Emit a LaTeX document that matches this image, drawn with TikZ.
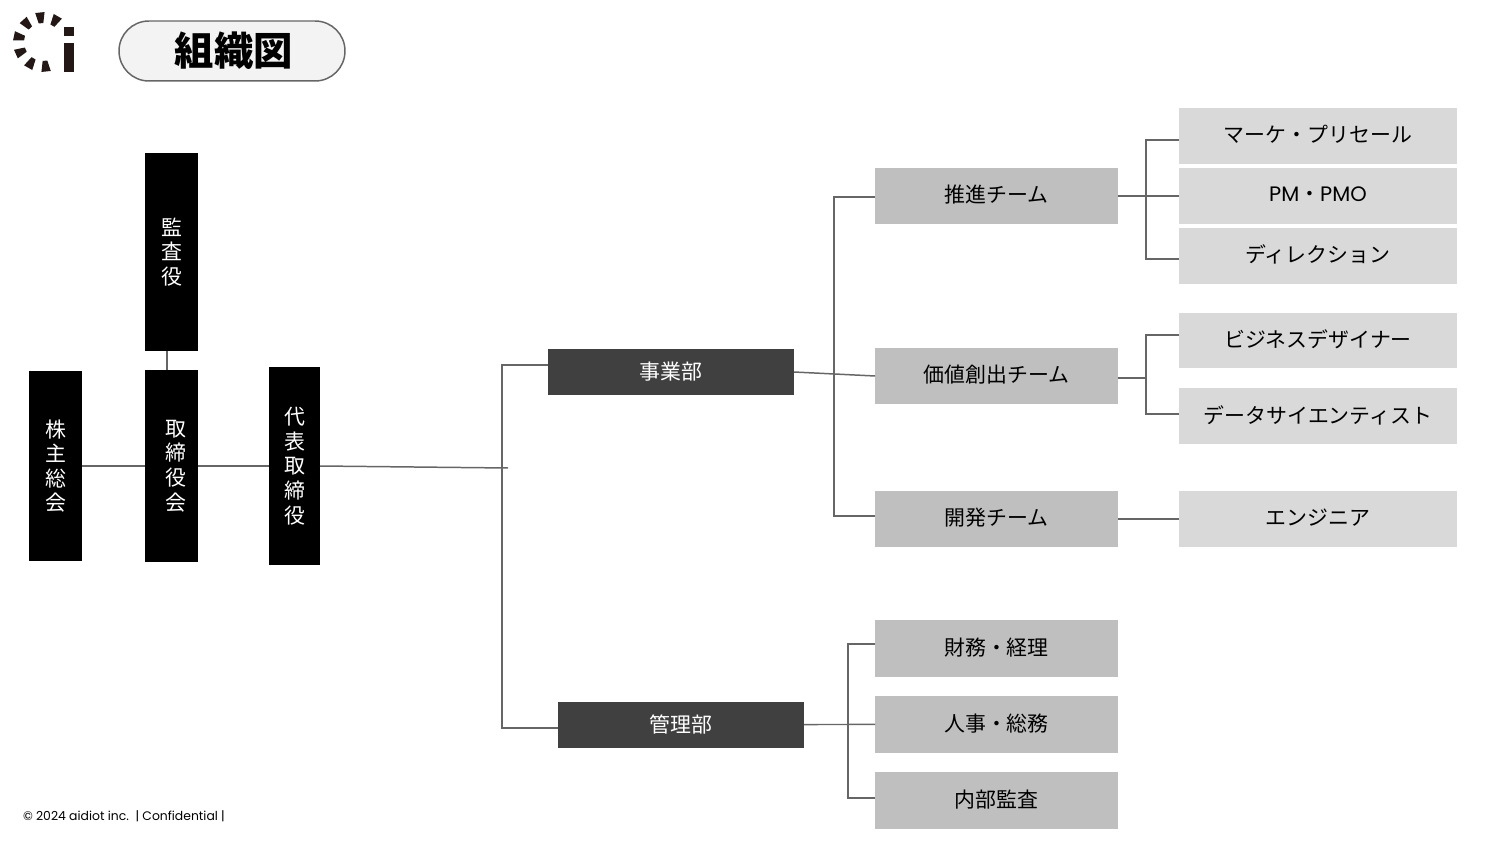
\documentclass[tikz,border=0pt]{standalone}
\usepackage{fontspec}
\setmainfont{Noto Sans CJK JP}
\newfontfamily\latinfont{Poppins}
\usepackage{xcolor}
\usetikzlibrary{positioning}
\definecolor{linegray}{RGB}{102,102,102}
\definecolor{logoink}{RGB}{35,24,21}
\definecolor{pillfill}{RGB}{243,243,243}
\definecolor{deptfill}{RGB}{64,64,64}
\definecolor{teamfill}{RGB}{191,191,191}
\definecolor{leaffill}{RGB}{217,217,217}
\newcommand{\nudge}{\hspace*{4.6pt}}

\begin{document}
\begin{tikzpicture}[
  x=0.02cm,y=-0.02cm,
  node distance=0.08cm,
  base/.style={inner sep=0pt,outer sep=0pt,align=center,font=\fontsize{11.9}{14}\selectfont},
  board/.style={base,fill=black,text=white,minimum width=1.05cm},
  dept/.style={base,fill=deptfill,text=white,minimum width=4.92cm,minimum height=0.92cm},
  team/.style={base,fill=teamfill,text depth=2.5pt,minimum width=4.86cm,minimum height=1.13cm},
  leaf/.style={base,fill=leaffill,text depth=2.5pt,minimum width=5.56cm,minimum height=1.12cm},
  conn/.style={draw=linegray,line width=0.85pt}]
  \useasboundingbox (0,0) rectangle (1500,844);

  % logo
  \foreach \a in {-60,-96,-132,-168,-204,-240,-276}
    \fill[logoink] ([shift={(43,42)}]\a-7:19) -- ([shift={(43,42)}]\a-9:30)
      -- ([shift={(43,42)}]\a+9:30) -- ([shift={(43,42)}]\a+7:19) -- cycle;
  \fill[logoink] (64,27) rectangle (74,36);
  \fill[logoink] (64,43) rectangle (74,72);

  \node[base,draw=linegray,line width=0.85pt,fill=pillfill,rounded corners=17pt,minimum width=4.52cm,minimum height=1.2cm,font=\fontsize{22.4}{26}\selectfont\bfseries] (title) at (232,51) {\hspace*{2pt}組織図};
  \node[base,anchor=west,font=\latinfont\fontsize{7.05}{8}\selectfont] (foot) at (23,816) {© 2024 aidiot inc.\ \ | Confidential |};

  % left column
  \node[board,minimum height=3.8cm] (holders) at (55.5,466) {株\\主\\総\\会};
  \node[board,minimum height=3.84cm] (directors) at (171.5,466) {\nudge 取\\\nudge 締\\\nudge 役\\\nudge 会};
  \node[board,minimum height=3.96cm] (auditor) at (171.5,252) {監\\査\\役};
  \node[board,minimum width=1.02cm,minimum height=3.96cm] (ceo) at (294.5,466) {代\\表\\取\\締\\役};

  % departments
  \node[dept] (biz) at (671,372) {事業部};
  \node[dept] (admin) at (681,724.5) {管理部};

  % teams and leaves
  \node[team] (promo) at (996.5,196) {推進チーム};
  \node[team] (value) at (996.5,376) {価値創出チーム};
  \node[team] (dev) at (996.5,519) {開発チーム};
  \node[team] (finance) at (996.5,648.5) {財務・経理};
  \node[team,below=0.39cm of finance] (hr) {人事・総務};
  \node[team,below=0.39cm of hr] (audit) {内部監査};

  \node[leaf,right=1.22cm of promo] (pm) {{\latinfont PM}・{\latinfont PMO}};
  \node[leaf,above=of pm] (sales) {マーケ・プリセール};
  \node[leaf,below=of pm] (direct) {ディレクション};
  \node[leaf] (design) at (1318,340.5) {ビジネスデザイナー};
  \node[leaf,below=0.4cm of design] (science) {データサイエンティスト};
  \node[leaf,right=1.22cm of dev] (engineer) {エンジニア};

  % bus coordinates
  \coordinate (tail) at (508,468);
  \coordinate (busbiz) at (502,365);
  \coordinate (busadmin) at (502,728);
  \coordinate (busT) at (834,197);
  \coordinate (busB) at (834,516);
  \coordinate (busA) at (1146,140);
  \coordinate (busC) at (1146,259);
  \coordinate (busD) at (1146,335);
  \coordinate (busE) at (1146,414);
  \coordinate (busF) at (1146,378);
  \coordinate (busG) at (848,644);
  \coordinate (busH) at (848,798);

  \draw[conn] (holders.east) -- (directors.west);
  \draw[conn] (directors.east) -- (ceo.west);
  \draw[conn] (auditor.south -| 167,0) -- (directors.north -| 167,0);
  \draw[conn] (ceo.east) -- (tail);
  \draw[conn] (biz.west |- busbiz) -- (busbiz) -- (busadmin) -- (admin.west |- busadmin);
  \draw[conn] (biz.east) -- (value.west);
  \draw[conn] (promo.west |- busT) -- (busT) -- (busB) -- (dev.west |- busB);
  \draw[conn] (promo.east) -- (pm.west);
  \draw[conn] (sales.west |- busA) -- (busA) -- (busC) -- (direct.west |- busC);
  \draw[conn] (design.west |- busD) -- (busD) -- (busE) -- (science.west |- busE);
  \draw[conn] (value.east |- busF) -- (busF);
  \draw[conn] (dev.east) -- (engineer.west);
  \draw[conn] (admin.east) -- (hr.west);
  \draw[conn] (finance.west |- busG) -- (busG) -- (busH) -- (audit.west |- busH);
\end{tikzpicture}
\end{document}
